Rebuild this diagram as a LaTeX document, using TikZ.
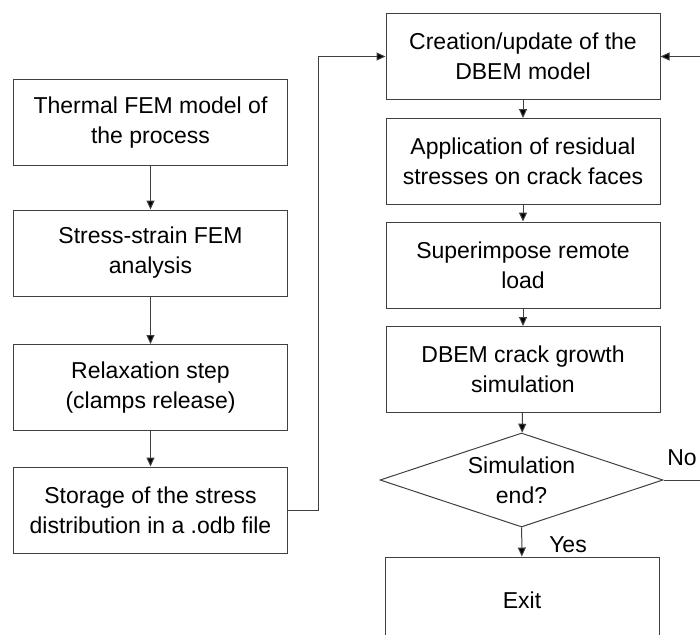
\documentclass[tikz,border=0pt]{standalone}
\usepackage{fontspec}
\setmainfont{Liberation Sans}
\usetikzlibrary{shapes.geometric,arrows.meta}

\begin{document}
\begin{tikzpicture}[x=1pt,y=-1pt,
  stepbox/.style={draw=black!75,line width=1pt,minimum width=274pt,minimum height=86pt,
    align=center,font=\fontsize{23}{30}\selectfont},
  check/.style={draw=black!75,line width=1pt,diamond,aspect=3,inner sep=0pt,
    minimum width=283pt,minimum height=94pt,align=center,font=\fontsize{23}{30}\selectfont},
  flow/.style={draw=black!75,line width=1pt,-{Triangle[length=9pt,width=8pt,fill=black]}},
  tag/.style={font=\fontsize{23}{30}\selectfont}]
  \clip (0,0) rectangle (700,634);

  % FEM part (left column)
  \node[stepbox] (thermal) at (150.5,122.5) {Thermal FEM model of\\the process};
  \node[stepbox] (stress)  at (150.5,253)   {Stress-strain FEM\\analysis};
  \node[stepbox] (relax)   at (150.5,387.5) {Relaxation step\\(clamps release)};
  \node[stepbox] (storage) at (150.5,510)   {Storage of the stress\\distribution in a .odb file};

  \draw[flow] (thermal) -- (stress);
  \draw[flow] (stress) -- (relax);
  \draw[flow] (relax) -- (storage);

  % DBEM part (right column)
  \node[stepbox] (model)  at (523,56.5)  {Creation/update of the\\DBEM model};
  \node[stepbox] (resid)  at (523,161.5) {Application of residual\\stresses on crack faces};
  \node[stepbox] (remote) at (523,265)   {Superimpose remote\\load};
  \node[stepbox] (growth) at (523,369.5) {DBEM crack growth\\simulation};
  \node[check]   (endq)   at (521.5,480) {Simulation\\end?};
  \node[stepbox] (exit)   at (522,600)   {Exit};

  \draw[flow] (model) -- (resid);
  \draw[flow] (resid) -- (remote);
  \draw[flow] (remote) -- (growth);
  \draw[flow] (growth) -- (endq);
  \draw[flow] (endq) -- (exit);

  % link and loop back
  \draw[flow] (storage.east) -- ++(30,0) |- (model.west);
  \coordinate (back) at (712,480);
  \draw[flow] (endq.east) -- (back) |- (model.east);

  % answers
  \node[tag] (yes) at (568,545) {Yes};
  \node[tag] (no)  at (682,458) {No};
\end{tikzpicture}
\end{document}
